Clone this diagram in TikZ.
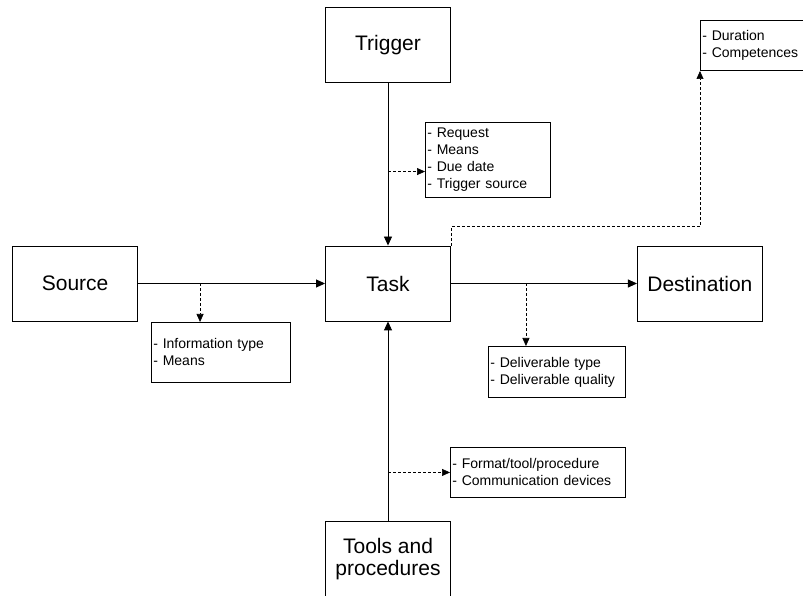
\documentclass[tikz,border=0pt]{standalone}
\usepackage{fontspec}
\setmainfont{Liberation Sans}
\usepackage{tikz}
\usetikzlibrary{arrows.meta, positioning}
\tikzset{
	blk/.style  ={rectangle, draw=black, line width=0.9pt, minimum width=125pt, minimum height=75pt, align=center, inner sep=2pt, font=\fontsize{21}{22}\selectfont},
	note/.style ={rectangle, draw=black, line width=0.9pt, align=left, inner sep=2pt, font=\fontsize{14}{17}\selectfont},
	flow/.style ={-{Triangle[length=9pt, width=8pt]}, line width=0.9pt},
	dflow/.style={-{Triangle[length=8pt, width=7pt]}, line width=0.7pt, dash pattern=on 3pt off 2pt},
}

\begin{document}
\begin{tikzpicture}[x=1pt, y=1pt]
	\useasboundingbox (0,0) rectangle (803,595);
	% main boxes
	\node[blk] (task) at (388,311.5) {Task};
	\node[blk, above=163pt of task] (trigger) {Trigger};
	\node[blk, left=187pt of task] (source) {Source};
	\node[blk, right=186pt of task] (dest) {Destination};
	\node[blk, below=200pt of task] (tools) {Tools and\\procedures};
	% attribute boxes
	\node[note, anchor=north west, text width=121pt, minimum height=75pt] (request) at (425,473) {- Request\\- Means\\- Due date\\- Trigger source};
	\node[note, anchor=north west, text width=135pt, minimum height=60pt] (info) at (151,273) {- Information type\\- Means};
	\node[note, anchor=north west, text width=133pt, minimum height=51pt] (deliv) at (488,249) {- Deliverable type\\- Deliverable quality};
	\node[note, anchor=north west, text width=171pt, minimum height=50pt] (format) at (450,148) {- Format/tool/procedure\\- Communication devices};
	\node[note, anchor=south west, text width=110pt, minimum height=50pt] (dur) at (700,524) {- Duration\\- Competences};
	% flows
	\draw[flow] (trigger) -- (task);
	\draw[flow] (source) -- (task);
	\draw[flow] (task) -- (dest);
	\draw[flow] (tools) -- (task);
	% attribute links
	\path (task.north) ++(0,74) coordinate (tq);
	\path (source.east) ++(62,0) coordinate (sq);
	\path (task.east) ++(75,0) coordinate (dq);
	\path (tools.north) ++(0,49) coordinate (pq);
	\draw[dflow] (tq) -- (tq -| request.west);
	\draw[dflow] (sq) -- (sq |- info.north);
	\draw[dflow] (dq) -- (dq |- deliv.north);
	\draw[dflow] (pq) -- (pq -| format.west);
	\draw[dflow] (task.north east) -- ++(0,19) -| (dur.south west);
\end{tikzpicture}
\end{document}
